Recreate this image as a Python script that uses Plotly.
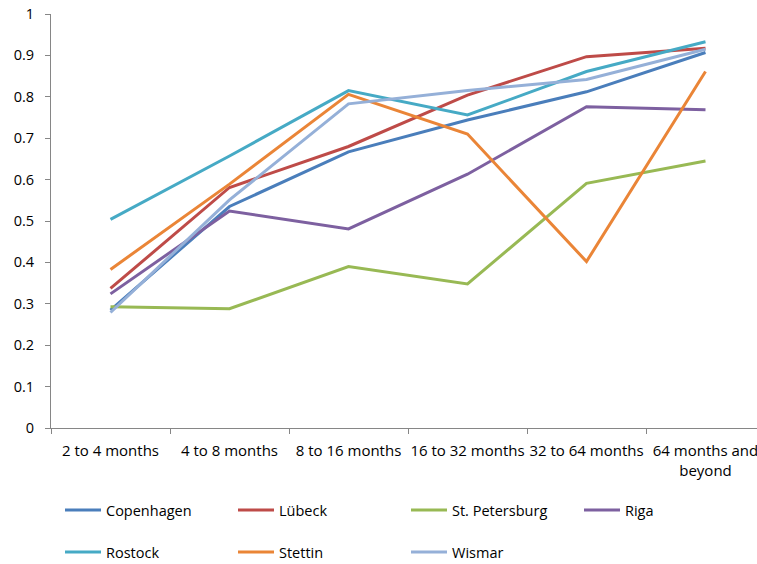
import plotly.graph_objects as go

categories = ["2 to 4 months", "4 to 8 months", "8 to 16 months", "16 to 32 months",
              "32 to 64 months", "64 months and<br>beyond"]

copenhagen = [0.285, 0.535, 0.667, 0.744, 0.812, 0.907]
lubeck = [0.337, 0.581, 0.680, 0.804, 0.897, 0.917]
st_petersburg = [0.293, 0.288, 0.390, 0.348, 0.591, 0.645]
riga = [0.324, 0.524, 0.481, 0.613, 0.776, 0.769]
rostock = [0.504, 0.657, 0.815, 0.756, 0.861, 0.933]
stettin = [0.383, 0.589, 0.806, 0.710, 0.402, 0.861]
wismar = [0.279, 0.551, 0.783, 0.815, 0.842, 0.915]

series = [
    ("Copenhagen", copenhagen, "#4A7EBB", "legend"),
    ("Lübeck", lubeck, "#BE4B48", "legend"),
    ("St. Petersburg", st_petersburg, "#98B954", "legend"),
    ("Riga", riga, "#7D60A0", "legend"),
    ("Rostock", rostock, "#46AAC5", "legend2"),
    ("Stettin", stettin, "#EA8537", "legend2"),
    ("Wismar", wismar, "#95B0D8", "legend2"),
]

FONT = "Open Sans, Liberation Sans, sans-serif"

fig = go.Figure()
for name, vals, color, lg in series:
    fig.add_trace(go.Scatter(
        x=categories, y=vals, name=name, mode="lines",
        line=dict(color=color, width=3), legend=lg,
    ))

axis_color = "#868686"
fig.update_layout(
    width=757, height=564,
    paper_bgcolor="white", plot_bgcolor="white",
    font=dict(family=FONT, size=14.5, color="#000000"),
    margin=dict(l=51, r=0, t=14, b=136, autoexpand=False),
    xaxis=dict(
        type="category", range=[-0.5, -0.5 + 706 / 119],
        showline=True, linecolor=axis_color, linewidth=1,
        ticks="outside", ticklen=5, tickcolor=axis_color, tickson="boundaries",
        showgrid=False, zeroline=False, ticklabelstandoff=9, tickangle=0,
        tickfont=dict(size=15),
    ),
    yaxis=dict(
        range=[0, 1], dtick=0.1, tick0=0,
        showline=True, linecolor=axis_color, linewidth=1,
        ticks="outside", ticklen=5, tickcolor=axis_color,
        showgrid=False, zeroline=False, ticklabelstandoff=8,
    ),
    legend=dict(
        orientation="h", xref="container", yref="container",
        x=60 / 757, y=1 - 510 / 564, xanchor="left", yanchor="middle",
        entrywidth=122, entrywidthmode="pixels", itemwidth=36,
        bgcolor="rgba(0,0,0,0)", font=dict(family=FONT, size=14.5),
    ),
    legend2=dict(
        orientation="h", xref="container", yref="container",
        x=60 / 757, y=1 - 552 / 564, xanchor="left", yanchor="middle",
        entrywidth=122, entrywidthmode="pixels", itemwidth=36,
        bgcolor="rgba(0,0,0,0)", font=dict(family=FONT, size=14.5),
    ),
)

fig.write_html("out.html",
               config={"displayModeBar": False},
               post_script="document.body.style.margin='0';document.body.style.overflow='hidden';")
